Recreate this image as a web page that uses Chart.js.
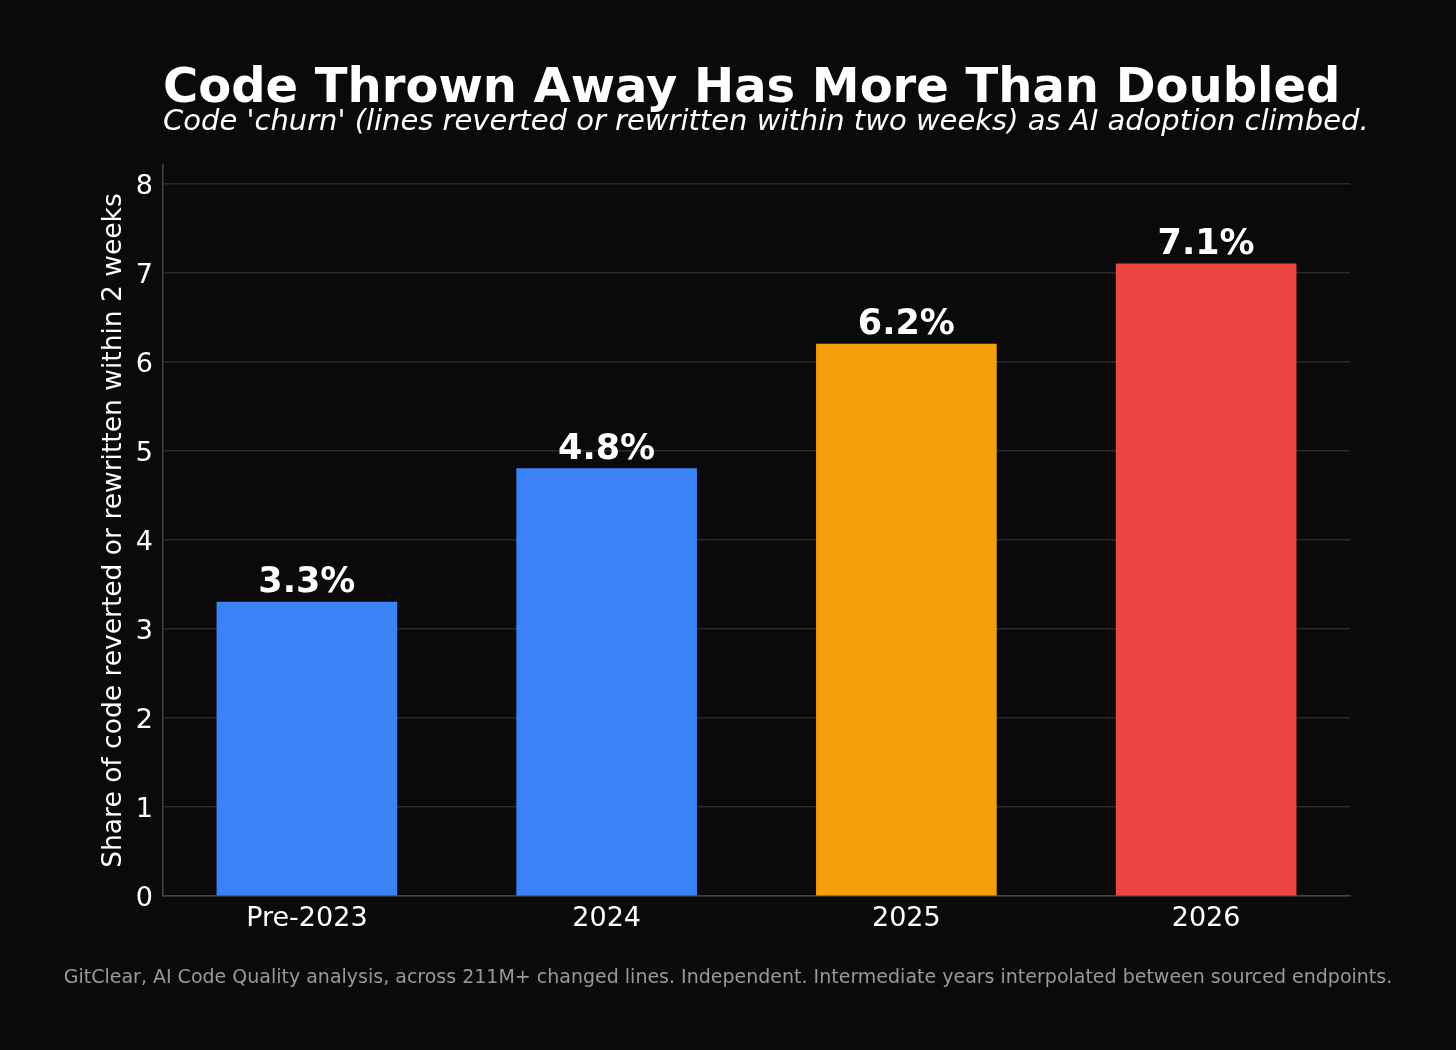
<!DOCTYPE html>
<html>
<head>
<meta charset="utf-8">
<script src="https://cdn.jsdelivr.net/npm/chart.js@4.4.1/dist/chart.umd.min.js"></script>
<style>
  html, body { margin: 0; padding: 0; background: #0a0a0a; }
  #wrap { width: 1456px; height: 1050px; }
</style>
</head>
<body>
<div id="wrap"><canvas id="churnChart" width="1456" height="1050"></canvas></div>
<script>
var categories = ["Pre-2023", "2024", "2025", "2026"];
var churnValues = [3.3, 4.8, 6.2, 7.1];
var barColors = ["#3b82f6", "#3b82f6", "#f59e0b", "#ef4444"];
var yTicks = [0, 1, 2, 3, 4, 5, 6, 7, 8];

var titleText = "Code Thrown Away Has More Than Doubled";
var subtitleText = "Code 'churn' (lines reverted or rewritten within two weeks) as AI adoption climbed.";
var footerText = "GitClear, AI Code Quality analysis, across 211M+ changed lines. Independent. Intermediate years interpolated between sourced endpoints.";

var FONT = "'DejaVu Sans', sans-serif";

// bars sit at positions 0..3 on a linear x axis, like the original plot
var barPoints = churnValues.map(function (v, i) { return { x: i, y: v }; });

// titles, footer and value labels drawn straight on the canvas
var textPlugin = {
  id: "textPlugin",
  afterDraw: function (chart) {
    var ctx = chart.ctx;
    var area = chart.chartArea;
    ctx.save();
    ctx.fillStyle = "#ffffff";
    ctx.textAlign = "left";
    ctx.textBaseline = "alphabetic";
    ctx.font = "bold 48px " + FONT;
    ctx.fillText(titleText, area.left, 102);
    ctx.font = "italic 29px " + FONT;
    ctx.fillText(subtitleText, area.left, 130);

    ctx.fillStyle = "#999999";
    ctx.textAlign = "center";
    ctx.font = "19px " + FONT;
    ctx.fillText(footerText, 728, 983);

    ctx.fillStyle = "#ffffff";
    ctx.font = "bold 35px " + FONT;
    chart.getDatasetMeta(0).data.forEach(function (bar, i) {
      ctx.fillText(churnValues[i].toFixed(1) + "%", bar.x, bar.y - 10);
    });
    ctx.restore();
  }
};

new Chart("churnChart", {
  type: "bar",
  data: {
    datasets: [{
      data: barPoints,
      backgroundColor: barColors,
      borderColor: barColors,
      borderWidth: 0,
      barThickness: 180
    }]
  },
  options: {
    responsive: false,
    animation: false,
    layout: { padding: { top: 165, right: 106, left: 98, bottom: 104 } },
    plugins: {
      legend: { display: false },
      tooltip: { enabled: false }
    },
    scales: {
      x: {
        type: "linear",
        min: -0.48,
        max: 3.48,
        offset: false,
        afterBuildTicks: function (scale) {
          scale.ticks = categories.map(function (c, i) { return { value: i }; });
        },
        grid: { display: false, drawTicks: false },
        border: { display: true, color: "#444444", width: 1.5 },
        ticks: {
          color: "#ffffff",
          font: { family: FONT, size: 27 },
          padding: 7,
          maxRotation: 0,
          callback: function (v) { return categories[v]; }
        },
        afterFit: function (scale) { scale.height = 50; }
      },
      y: {
        min: 0,
        max: 8.21,
        afterBuildTicks: function (scale) {
          scale.ticks = yTicks.map(function (v) { return { value: v }; });
        },
        grid: { color: "#2a2a2a", lineWidth: 1.5, drawTicks: false },
        border: { display: true, color: "#444444", width: 1.5 },
        ticks: { color: "#ffffff", font: { family: FONT, size: 27 }, padding: 10, labelOffset: 3 },
        title: {
          display: true,
          text: "Share of code reverted or rewritten within 2 weeks",
          color: "#ffffff",
          font: { family: FONT, size: 26.5 },
          padding: 0
        },
        afterFit: function (scale) { scale.width = 65; }
      }
    }
  },
  plugins: [textPlugin]
});
</script>
</body>
</html>
